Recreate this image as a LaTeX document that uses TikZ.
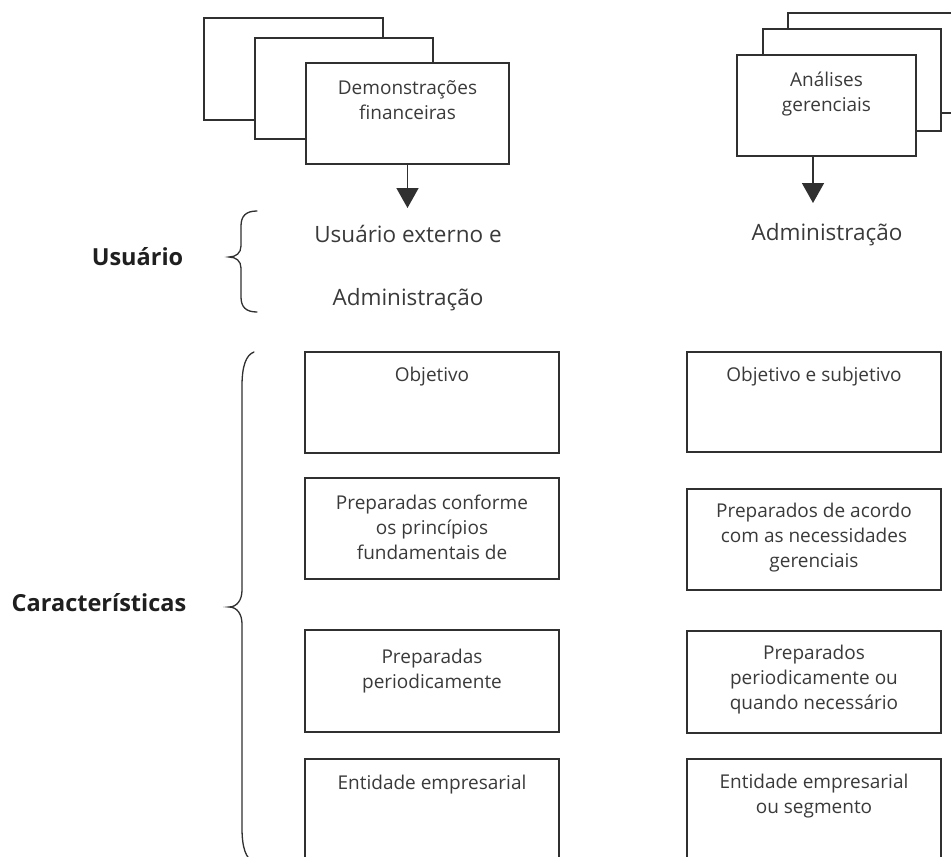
\documentclass[tikz,border=0pt]{standalone}
\usepackage{fontspec}
\setmainfont{Open Sans}
\usetikzlibrary{arrows.meta}
\definecolor{ink}{HTML}{303030}
\definecolor{txt}{HTML}{3A3A3A}
\newcommand\boxfont{\fontsize{19}{25}\selectfont}
\newcommand\bigfont{\fontsize{22.5}{28}\selectfont}
\newcommand\headfont{\fontsize{23.5}{28}\selectfont\bfseries}
\newcommand\firstline{\rule{0pt}{20pt}}

\begin{document}
\begin{tikzpicture}[x=1pt,y=-1pt,
  panel/.style={draw=ink, line width=1.6pt, fill=white, rectangle, inner sep=0pt},
  lbl/.style={anchor=north, inner sep=0pt, align=center, font=\boxfont, text=txt},
  biglbl/.style={anchor=base, inner sep=0pt, font=\bigfont, text=txt},
  head/.style={anchor=base, inner sep=0pt, font=\headfont, text=black!88},
  arr/.style={draw=ink, line width=1.6pt, -{Triangle[width=22pt,length=20pt]}},
  bracepath/.style={draw=ink, line width=1.3pt, line cap=round}
]
\clip (0,0) rectangle (951,857);
\fill[white] (0,0) rectangle (951,857);

% ---- stacked sheets: financial statements
\node[panel, minimum width=179pt, minimum height=102pt] (dfb1) at (293.5,69) {};
\node[panel, minimum width=178pt, minimum height=101pt] (dfb2) at (344,88.5) {};
\node[panel, minimum width=203pt, minimum height=101pt] (df) at (407.5,113.5) {};
\node[lbl] (dftxt) at (407.5,74) {\firstline Demonstrações\\financeiras};

% ---- stacked sheets: management analyses
\node[panel, minimum width=220pt, minimum height=100pt] (agb1) at (898,63) {};
\node[panel, minimum width=178pt, minimum height=102pt] (agb2) at (852,80) {};
\node[panel, minimum width=179pt, minimum height=101pt] (ag) at (826.5,105.5) {};
\node[lbl] (agtxt) at (826.5,66) {\firstline Análises\\gerenciais};

% ---- arrows to the users
\coordinate (dftip) at (407.5,208);
\coordinate (agtip) at (813,203);
\draw[arr] (df.south) -- (dftip);
\draw[arr] (ag.south -| agtip) -- (agtip);

% ---- users
\node[biglbl] (usr1) at (408,242) {Usuário externo e};
\node[biglbl] (usr2) at (408,305) {Administração};
\node[biglbl] (adm) at (827,240) {Administração};
\node[head] (husr) at (137.5,265) {Usuário};
\node[head] (hcar) at (99,611) {Características};

% ---- braces
\draw[bracepath] (257,211) .. controls (246,211) and (241,216) .. (241,226)
  -- (241,246) .. controls (241,253) and (236,257) .. (229,257)
  .. controls (236,257) and (241,261) .. (241,268)
  -- (241,297) .. controls (241,307) and (246,312) .. (257,312);
\draw[bracepath] (254,352) .. controls (246,355) and (242,366) .. (242,386)
  -- (242,590) .. controls (242,600) and (237,607) .. (229,607)
  .. controls (237,607) and (242,614) .. (242,624)
  -- (242,828) .. controls (242,848) and (246,859) .. (254,862);

% ---- characteristics, left column
\node[panel, minimum width=254pt, minimum height=101pt] (l1) at (432,402.5) {};
\node[panel, minimum width=254pt, minimum height=101pt] (l2) at (432,528.5) {};
\node[panel, minimum width=254pt, minimum height=102pt] (l3) at (432,681) {};
\node[panel, minimum width=254pt, minimum height=110pt] (l4) at (432,814) {};
\node[lbl] (l1t) at (432,361) {\firstline Objetivo};
\node[lbl] (l2t) at (432,489) {\firstline Preparadas conforme\\os princípios\\fundamentais de};
\node[lbl] (l3t) at (432,643) {\firstline Preparadas\\periodicamente};
\node[lbl] (l4t) at (432,769) {\firstline Entidade empresarial};

% ---- characteristics, right column
\node[panel, minimum width=254pt, minimum height=100pt] (r1) at (814,402) {};
\node[panel, minimum width=254pt, minimum height=101pt] (r2) at (814,539.5) {};
\node[panel, minimum width=254pt, minimum height=102pt] (r3) at (814,682) {};
\node[panel, minimum width=254pt, minimum height=110pt] (r4) at (814,814) {};
\node[lbl] (r1t) at (814,361) {\firstline Objetivo e subjetivo};
\node[lbl] (r2t) at (814,497) {\firstline Preparados de acordo\\com as necessidades\\gerenciais};
\node[lbl] (r3t) at (814,639) {\firstline Preparados\\periodicamente ou\\quando necessário};
\node[lbl] (r4t) at (814,768) {\firstline Entidade empresarial\\ou segmento};
\end{tikzpicture}
\end{document}
